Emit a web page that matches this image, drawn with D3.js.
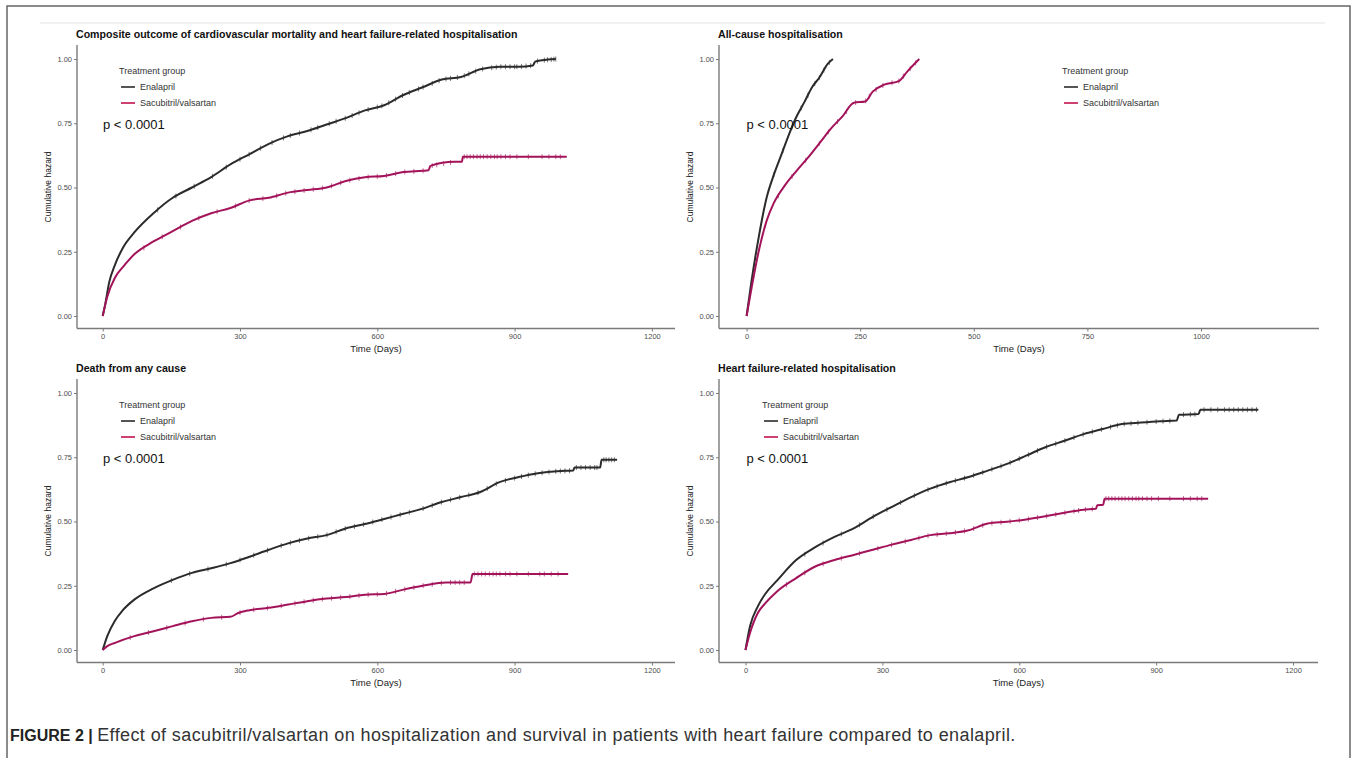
<!DOCTYPE html>
<html>
<head>
<meta charset="utf-8">
<script src="https://cdn.jsdelivr.net/npm/d3@7"></script>
<style>
body { margin: 0; background: #ffffff; }
svg text { font-family: "Liberation Sans", Arial, sans-serif; }
</style>
</head>
<body>
<div id="chart"></div>
<script>
// Cumulative hazard curves, [days, hazard]
var compositeEnalapril = [[0,0],[6,0.05],[14,0.13],[27,0.20],[44,0.265],[69,0.325],[111,0.40],[153,0.46],[195,0.50],[237,0.54],[279,0.59],[321,0.63],[363,0.67],[405,0.70],[447,0.72],[489,0.745],[531,0.77],[573,0.80],[615,0.82],[657,0.86],[699,0.89],[741,0.92],[783,0.93],[825,0.96],[867,0.97],[909,0.97],[940,0.975],[945,0.99],[960,0.995],[990,1.0]];
var compositeSacubitril = [[0,0],[10,0.075],[27,0.15],[44,0.19],[69,0.24],[111,0.29],[153,0.33],[195,0.37],[237,0.40],[279,0.42],[321,0.45],[363,0.46],[405,0.48],[447,0.49],[489,0.50],[531,0.525],[573,0.54],[615,0.545],[657,0.56],[699,0.565],[712,0.567],[716,0.584],[768,0.60],[785,0.60],[787,0.62],[1014,0.62]];

var allCauseEnalapril = [[0,0],[10,0.126],[27,0.31],[44,0.46],[60,0.55],[77,0.63],[94,0.71],[111,0.78],[128,0.835],[144,0.89],[161,0.93],[178,0.98],[190,1.0]];
var allCauseSacubitril = [[0,0],[10,0.10],[27,0.255],[44,0.37],[60,0.44],[85,0.51],[110,0.565],[135,0.616],[161,0.674],[186,0.73],[211,0.777],[236,0.83],[261,0.835],[278,0.874],[303,0.90],[336,0.915],[353,0.95],[380,1.0]];

var deathEnalapril = [[0,0],[10,0.054],[27,0.115],[44,0.155],[69,0.196],[111,0.24],[153,0.273],[195,0.30],[237,0.318],[279,0.338],[321,0.363],[363,0.39],[405,0.415],[447,0.434],[489,0.447],[531,0.473],[573,0.49],[615,0.51],[657,0.53],[699,0.55],[741,0.576],[783,0.595],[825,0.615],[867,0.653],[909,0.673],[951,0.688],[993,0.696],[1028,0.698],[1031,0.71],[1087,0.71],[1090,0.74],[1124,0.74]];
var deathSacubitril = [[0,0],[10,0.015],[27,0.028],[69,0.054],[111,0.073],[153,0.093],[195,0.112],[237,0.125],[279,0.129],[296,0.144],[321,0.155],[363,0.164],[405,0.177],[447,0.19],[489,0.20],[531,0.206],[573,0.215],[615,0.218],[657,0.235],[699,0.25],[750,0.263],[804,0.263],[808,0.296],[1017,0.296]];

var hfEnalapril = [[0,0],[10,0.093],[27,0.17],[44,0.22],[69,0.27],[111,0.35],[153,0.40],[195,0.44],[237,0.473],[279,0.518],[321,0.557],[363,0.595],[405,0.628],[447,0.653],[489,0.673],[531,0.698],[573,0.724],[615,0.756],[657,0.789],[699,0.814],[741,0.84],[783,0.86],[825,0.879],[867,0.885],[909,0.89],[945,0.893],[950,0.915],[993,0.918],[997,0.935],[1124,0.935]];
var hfSacubitril = [[0,0],[10,0.067],[27,0.144],[44,0.183],[69,0.228],[111,0.28],[153,0.325],[195,0.35],[237,0.37],[279,0.39],[321,0.41],[363,0.428],[405,0.447],[447,0.454],[489,0.466],[531,0.492],[573,0.499],[615,0.508],[657,0.52],[699,0.534],[741,0.546],[768,0.55],[771,0.563],[784,0.565],[787,0.589],[1014,0.589]];

// Censoring marks (days)
var compositeEnalaprilCensor = [120,160,200,240,270,300,320,345,370,395,410,430,455,470,495,510,530,545,560,580,600,610,625,640,655,670,690,700,720,735,750,760,775,790,800,815,830,850,860,870,880,890,900,905,915,925,935,950,965,972,980,986,990];
var compositeSacubitrilCensor = [90,130,170,210,250,290,320,350,380,400,420,440,460,480,500,520,540,560,580,600,620,640,660,680,700,720,730,745,760,790,796,803,810,818,825,832,840,848,856,862,870,880,890,905,930,960,975,990,1000];
var allCauseEnalaprilCensor = [60,80,100,120,135,150,160,170,182];
var allCauseSacubitrilCensor = [70,100,130,160,180,200,220,240,262,270,285,300,320,335,345,360,372];
var deathEnalaprilCensor = [150,190,230,270,300,330,360,390,410,430,450,470,490,510,530,550,570,590,610,630,650,670,700,720,740,760,780,800,820,840,860,880,900,915,930,945,960,975,990,1000,1010,1020,1035,1045,1055,1065,1075,1080,1095,1100,1106,1112,1118];
var deathSacubitrilCensor = [60,100,140,180,220,260,300,330,360,390,420,440,460,480,500,520,540,560,580,600,620,640,660,680,700,720,740,760,770,780,790,812,820,828,836,845,853,860,868,880,890,905,930,955,965,980,995];
var hfEnalaprilCensor = [130,170,210,250,280,310,340,370,400,420,440,460,480,500,520,540,560,580,600,620,640,660,680,700,720,740,760,780,800,815,830,845,860,880,900,915,930,960,975,985,1005,1020,1035,1050,1060,1070,1080,1090,1100,1110,1120];
var hfSacubitrilCensor = [90,130,170,210,250,290,320,350,380,400,420,440,460,480,500,520,540,560,580,600,620,640,660,680,700,720,730,745,760,790,796,803,810,818,825,832,840,848,856,862,870,880,890,905,930,960,975,990,1000];

var timeTicks1200 = [0, 300, 600, 900, 1200];
var timeTicks1000 = [0, 250, 500, 750, 1000];
var hazardTicks = [0, 0.25, 0.5, 0.75, 1];
var groupNames = ["Enalapril", "Sacubitril/valsartan"];
var panelTitles = ["Composite outcome of cardiovascular mortality and heart failure-related hospitalisation",
    "All-cause hospitalisation", "Death from any cause", "Heart failure-related hospitalisation"];

var enalaprilColor = "#2b2b2b";
var sacubitrilColor = "#a3135a";
var legendSacuColor = "#c2124f";
var axisColor = "#7a7a7a";

var width = 1357;
var height = 758;

var svg = d3.select("#chart")
    .append("svg")
    .attr("width", width)
    .attr("height", height);

// Page frame
svg.append("rect")
    .attr("x", 7).attr("y", 6)
    .attr("width", 1343).attr("height", 770)
    .attr("fill", "none")
    .attr("stroke", "#666")
    .attr("stroke-width", 1.5);
svg.append("line")
    .attr("x1", 40).attr("x2", 1325)
    .attr("y1", 23).attr("y2", 23)
    .attr("stroke", "#e3e3e3");

// Layout of the four panels
var panels = [
    { title: panelTitles[0], enal: compositeEnalapril, sacu: compositeSacubitril, ce: compositeEnalaprilCensor, cs: compositeSacubitrilCensor,
      ticks: timeTicks1200, axisX: 77, top: 45, dy: 0, x0: 102.7, x1: 651.9, axisEnd: 675, legendX: 119, pX: 103 },
    { title: panelTitles[1], enal: allCauseEnalapril, sacu: allCauseSacubitril, ce: allCauseEnalaprilCensor, cs: allCauseSacubitrilCensor,
      ticks: timeTicks1000, axisX: 719, top: 45, dy: 0, x0: 746.6, x1: 1201, axisEnd: 1319, legendX: 1062, pX: 746.5 },
    { title: panelTitles[2], enal: deathEnalapril, sacu: deathSacubitril, ce: deathEnalaprilCensor, cs: deathSacubitrilCensor,
      ticks: timeTicks1200, axisX: 77, top: 45, dy: 334, x0: 102.7, x1: 651.9, axisEnd: 675, legendX: 119, pX: 103 },
    { title: panelTitles[3], enal: hfEnalapril, sacu: hfSacubitril, ce: hfEnalaprilCensor, cs: hfSacubitrilCensor,
      ticks: timeTicks1200, axisX: 719, top: 45, dy: 334, x0: 745.5, x1: 1293, axisEnd: 1318, legendX: 762, pX: 746.5 }
];

panels.forEach(function (p) {
    var g = svg.append("g").attr("transform", "translate(0," + p.dy + ")");
    var axisY = 328.5;

    var x = d3.scaleLinear().domain([p.ticks[0], p.ticks[p.ticks.length - 1]]).range([p.x0, p.x1]);
    var y = d3.scaleLinear().domain([0, 1]).range([316, 59]);

    // Title
    g.append("text")
        .attr("x", p.axisX - 1).attr("y", 38)
        .style("font-size", "10.6px")
        .style("font-weight", "bold")
        .attr("fill", "#111")
        .text(p.title);

    // Axis lines
    g.append("line")
        .attr("x1", p.axisX).attr("x2", p.axisX)
        .attr("y1", p.top).attr("y2", axisY)
        .attr("stroke", axisColor).attr("stroke-width", 1.4);
    g.append("line")
        .attr("x1", p.axisX).attr("x2", p.axisEnd)
        .attr("y1", axisY).attr("y2", axisY)
        .attr("stroke", axisColor).attr("stroke-width", 1.4);

    var xAxis = g.append("g")
        .attr("transform", "translate(0," + axisY + ")")
        .call(d3.axisBottom(x).tickValues(p.ticks).tickSize(3).tickPadding(2).tickFormat(d3.format("d")));
    var yAxis = g.append("g")
        .attr("transform", "translate(" + p.axisX + ",0)")
        .call(d3.axisLeft(y).tickValues(hazardTicks).tickSize(3).tickPadding(2).tickFormat(d3.format(".2f")));

    [xAxis, yAxis].forEach(function (a) {
        a.select(".domain").remove();
        a.selectAll(".tick line").attr("stroke", axisColor);
        a.selectAll(".tick text")
            .attr("fill", "#4d4d4d")
            .style("font-size", "7.5px");
    });

    // Axis titles
    g.append("text")
        .attr("x", (p.axisX + p.axisEnd) / 2).attr("y", 352)
        .attr("text-anchor", "middle")
        .style("font-size", "9.5px")
        .attr("fill", "#222")
        .text("Time (Days)");
    g.append("text")
        .attr("transform", "translate(" + (p.axisX - 26) + ",187) rotate(-90)")
        .attr("text-anchor", "middle")
        .style("font-size", "8.5px")
        .attr("fill", "#222")
        .text("Cumulative hazard");

    // Curves
    var line = d3.line()
        .curve(d3.curveMonotoneX)
        .x(function (d) { return x(d[0]); })
        .y(function (d) { return y(d[1]); });

    var series = [
        { data: p.enal, censor: p.ce, color: enalaprilColor },
        { data: p.sacu, censor: p.cs, color: sacubitrilColor }
    ];
    series.forEach(function (s) {
        g.append("path")
            .datum(s.data)
            .attr("d", line)
            .attr("fill", "none")
            .attr("stroke", s.color)
            .attr("stroke-width", 2)
            .attr("stroke-linejoin", "round");

        // censor marks sit on the curve
        var times = s.data.map(function (d) { return d[0]; });
        var vals = s.data.map(function (d) { return d[1]; });
        var onCurve = d3.scaleLinear().domain(times).range(vals);
        g.selectAll(null)
            .data(s.censor)
            .enter()
            .append("line")
            .attr("x1", function (t) { return x(t); })
            .attr("x2", function (t) { return x(t); })
            .attr("y1", function (t) { return y(onCurve(t)) - 2.5; })
            .attr("y2", function (t) { return y(onCurve(t)) + 2.5; })
            .attr("stroke", s.color)
            .attr("stroke-opacity", 0.8)
            .attr("stroke-width", 0.8);
    });

    // Legend
    var lg = g.append("g").attr("transform", "translate(" + p.legendX + ",71)");
    lg.append("text")
        .attr("x", 0).attr("y", 3)
        .style("font-size", "9px")
        .attr("fill", "#333")
        .text("Treatment group");
    [enalaprilColor, legendSacuColor].forEach(function (c, i) {
        lg.append("line")
            .attr("x1", 2).attr("x2", 16)
            .attr("y1", 16 + i * 16).attr("y2", 16 + i * 16)
            .attr("stroke", c).attr("stroke-width", 1.6);
        lg.append("text")
            .attr("x", 21).attr("y", 19 + i * 16)
            .style("font-size", "9px")
            .attr("fill", "#333")
            .text(groupNames[i]);
    });

    // p-value
    g.append("text")
        .attr("x", p.pX).attr("y", 129)
        .style("font-size", "13px")
        .attr("fill", "#111")
        .text("p < 0.0001");
});

// Caption
var caption = svg.append("text")
    .attr("x", 10).attr("y", 741)
    .style("font-size", "16px")
    .attr("fill", "#333");
caption.append("tspan").style("font-weight", "bold").attr("fill", "#222").text("FIGURE 2 | ");
caption.append("tspan")
    .style("font-size", "18px")
    .style("letter-spacing", "0.4px")
    .text("Effect of sacubitril/valsartan on hospitalization and survival in patients with heart failure compared to enalapril.");
</script>
</body>
</html>
